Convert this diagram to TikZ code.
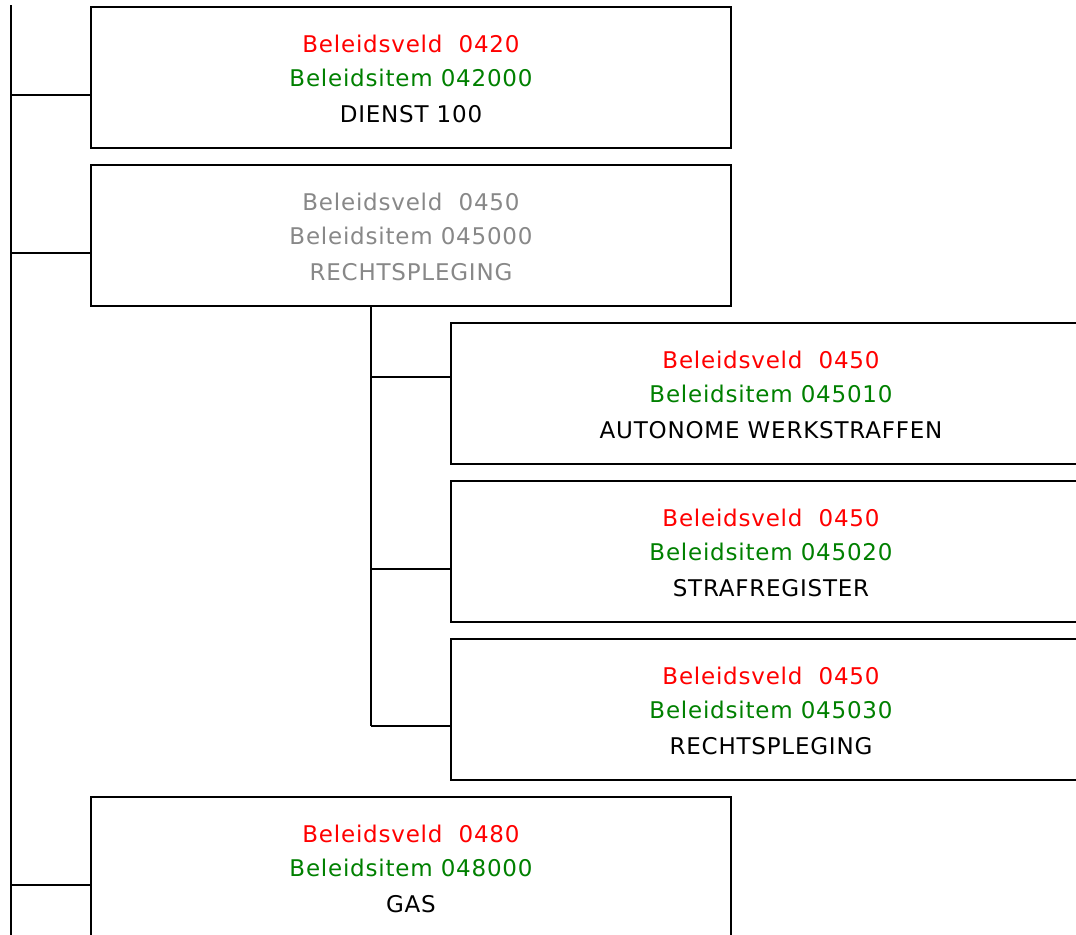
\documentclass[tikz,border=0pt]{standalone}
\usepackage{fontspec}
\newfontfamily\boxfont{DejaVu Sans}[LetterSpace=3.4]
\usetikzlibrary{calc}
\definecolor{bred}{RGB}{255,0,0}
\definecolor{bgreen}{RGB}{0,128,0}
\definecolor{bgray}{RGB}{136,136,136}
\begin{document}
\begin{tikzpicture}[x=0.75pt,y=-0.75pt,
  box/.style={draw,line width=1.8pt,rectangle,minimum width=480pt,minimum height=105.75pt,inner sep=0pt,outer sep=0pt},
  ln/.style={line width=1.8pt},
  txt/.style={anchor=base,inner sep=0pt,font=\boxfont\fontsize{17.25pt}{20pt}\selectfont}]
\path[use as bounding box] (0,0) rectangle (1076,935);
\clip (0,0) rectangle (1076,935);
% boxes
\node[box] (b1) at (411,77.5) {};
\node[box] (b2) at (411,235.5) {};
\node[box] (b3) at (771,393.5) {};
\node[box] (b4) at (771,551.5) {};
\node[box] (b5) at (771,709.5) {};
\node[box] (b6) at (411,867.5) {};
% texts
\node[txt,text=bred]   (t1a) at ($(b1.north)+(0,45)$) {Beleidsveld\ \ 0420};
\node[txt,text=bgreen] (t1b) at ($(b1.north)+(0,79)$) {Beleidsitem 042000};
\node[txt]             (t1c) at ($(b1.north)+(0,115)$) {DIENST 100};
\node[txt,text=bgray]  (t2a) at ($(b2.north)+(0,45)$) {Beleidsveld\ \ 0450};
\node[txt,text=bgray]  (t2b) at ($(b2.north)+(0,79)$) {Beleidsitem 045000};
\node[txt,text=bgray]  (t2c) at ($(b2.north)+(0,115)$) {RECHTSPLEGING};
\node[txt,text=bred]   (t3a) at ($(b3.north)+(0,45)$) {Beleidsveld\ \ 0450};
\node[txt,text=bgreen] (t3b) at ($(b3.north)+(0,79)$) {Beleidsitem 045010};
\node[txt]             (t3c) at ($(b3.north)+(0,115)$) {AUTONOME WERKSTRAFFEN};
\node[txt,text=bred]   (t4a) at ($(b4.north)+(0,45)$) {Beleidsveld\ \ 0450};
\node[txt,text=bgreen] (t4b) at ($(b4.north)+(0,79)$) {Beleidsitem 045020};
\node[txt]             (t4c) at ($(b4.north)+(0,115)$) {STRAFREGISTER};
\node[txt,text=bred]   (t5a) at ($(b5.north)+(0,45)$) {Beleidsveld\ \ 0450};
\node[txt,text=bgreen] (t5b) at ($(b5.north)+(0,79)$) {Beleidsitem 045030};
\node[txt]             (t5c) at ($(b5.north)+(0,115)$) {RECHTSPLEGING};
\node[txt,text=bred]   (t6a) at ($(b6.north)+(0,45)$) {Beleidsveld\ \ 0480};
\node[txt,text=bgreen] (t6b) at ($(b6.north)+(0,79)$) {Beleidsitem 048000};
\node[txt]             (t6c) at ($(b6.north)+(0,115)$) {GAS};
% connectors
\coordinate (trtop) at (11,5);
\coordinate (trbot) at (11,935);
\draw[ln] (trtop) -- (trbot);
\coordinate (c1) at ($(b1.north west)+(0,88)$);
\coordinate (c2) at ($(b2.north west)+(0,88)$);
\coordinate (c6) at ($(b6.north west)+(0,88)$);
\draw[ln] (c1) -- (trtop |- c1);
\draw[ln] (c2) -- (trtop |- c2);
\draw[ln] (c6) -- (trtop |- c6);
\coordinate (st) at ($(b2.south west)+(280,0)$);
\coordinate (c3) at ($(b3.north west)+(0,54)$);
\coordinate (c4) at ($(b4.north west)+(0,88)$);
\coordinate (c5) at ($(b5.north west)+(0,87)$);
\draw[ln] (st) -- (st |- c5);
\draw[ln] (c3) -- (st |- c3);
\draw[ln] (c4) -- (st |- c4);
\draw[ln] (c5) -- (st |- c5);
\end{tikzpicture}
\end{document}
